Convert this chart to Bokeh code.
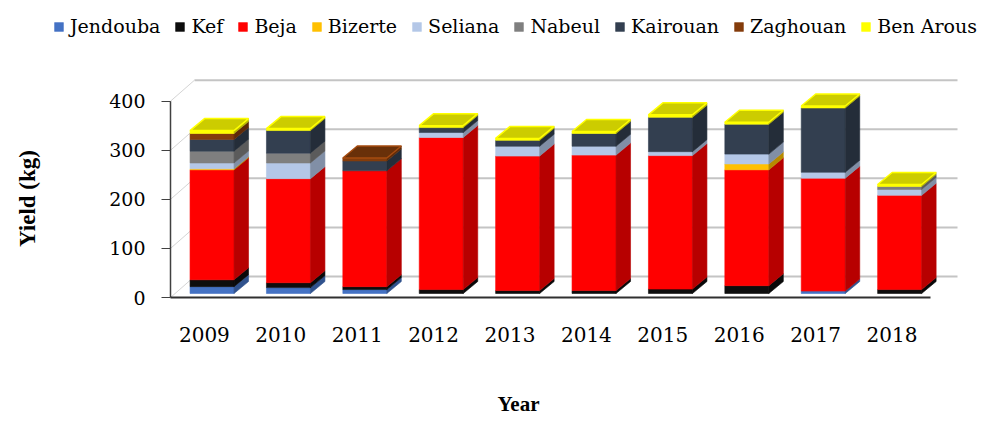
import math
from bokeh.plotting import figure
from bokeh.models import Range1d, FixedTicker, Legend, LegendItem, Label, ColumnDataSource
from bokeh.embed import file_html
from bokeh.resources import INLINE

# ---------------- data ----------------
years = ["2009", "2010", "2011", "2012", "2013", "2014", "2015", "2016", "2017", "2018"]
series = ["Jendouba", "Kef", "Beja", "Bizerte", "Seliana", "Nabeul", "Kairouan", "Zaghouan", "Ben Arous"]
jendouba = [14, 12, 8, 0, 0, 0, 0, 0, 5, 0]
kef = [14, 10, 6, 8, 6, 6, 9, 16, 0, 8]
beja = [224, 212, 236, 310, 274, 276, 272, 236, 230, 192]
bizerte = [2, 0, 0, 0, 0, 0, 0, 12, 0, 0]
seliana = [12, 32, 0, 10, 20, 18, 8, 20, 12, 12]
nabeul = [24, 20, 0, 0, 0, 0, 0, 0, 0, 6]
kairouan = [24, 46, 20, 10, 12, 26, 70, 61, 131, 0]
zaghouan = [12, 0, 6, 0, 0, 0, 0, 0, 0, 0]
ben_arous = [6, 4, 0, 4, 4, 4, 5, 4, 4, 4]
y_ticks = [0, 100, 200, 300, 400]

values = [jendouba, kef, beja, bizerte, seliana, nabeul, kairouan, zaghouan, ben_arous]
colors = ["#4472c4", "#0d0d0d", "#ff0000", "#ffc000", "#b4c7e7", "#7f7f7f", "#333f50", "#843c0c", "#ffff00"]

# ---------------- geometry (pixel based style constants) ----------------
W, H = 998, 423
PX_X = 76.4      # px per category
PX_Y = 0.4908    # px per unit
X_ORIGIN = 203.9  # screen x of category 0
Y_ORIGIN = 297.0  # screen y of value 0


def dx(sx):
    return (sx - X_ORIGIN) / PX_X


def dy(sy):
    return (Y_ORIGIN - sy) / PX_Y


def ux(px):
    return px / PX_X


def uy(px):
    return px / PX_Y


BAR_SHIFT = 0.1
HW = ux(22)
DDX = ux(14.5)
DDY = uy(12)
BASE = uy(4)
AXIS_X = dx(170)
WALL_L = AXIS_X + ux(24)
WALL_DY = uy(21)
WALL_R = dx(957)
FLOOR_R = dx(930)


def shade(hexc, f):
    h = hexc.lstrip("#")
    r, g, b = (int(h[i:i + 2], 16) for i in (0, 2, 4))
    return "#%02x%02x%02x" % (min(255, int(r * f)), min(255, int(g * f)), min(255, int(b * f)))


p = figure(width=W, height=H, x_range=Range1d(dx(0), dx(W)), y_range=Range1d(dy(H), dy(0)),
           output_backend="svg", toolbar_location=None,
           min_border_left=0, min_border_right=0, min_border_top=0, min_border_bottom=0)
p.outline_line_color = None
p.xgrid.visible = False
p.ygrid.visible = False
p.background_fill_color = "white"
p.border_fill_color = "white"

# walls
n = len(y_ticks)
p.segment(x0=[WALL_L] * n, y0=[t + WALL_DY for t in y_ticks],
          x1=[WALL_R] * n, y1=[t + WALL_DY for t in y_ticks],
          line_color="#c4c4c4", line_width=2)
p.segment(x0=[AXIS_X] * n, y0=y_ticks,
          x1=[WALL_L] * n, y1=[t + WALL_DY for t in y_ticks],
          line_color="#d4d4d4", line_width=1)
p.segment(x0=[AXIS_X], y0=[0], x1=[AXIS_X], y1=[max(y_ticks)], line_color="#404040", line_width=1.5)
p.segment(x0=[AXIS_X], y0=[0], x1=[FLOOR_R], y1=[0], line_color="#303030", line_width=2)

# top series index for each year
top_idx = []
for i in range(len(years)):
    k_top = None
    for k in range(len(series)):
        if values[k][i] > 0:
            k_top = k
    top_idx.append(k_top)

cum = [BASE] * len(years)
items = []
for k, name in enumerate(series):
    fr = dict(left=[], right=[], bottom=[], top=[])
    sxs, sys_ = [], []
    txs, tys = [], []
    for i in range(len(years)):
        v = values[k][i]
        if v <= 0:
            continue
        b = cum[i]
        t = b + v
        cum[i] = t
        cx = i + BAR_SHIFT
        fr["left"].append(cx - HW)
        fr["right"].append(cx + HW)
        fr["bottom"].append(b)
        fr["top"].append(t)
        sxs.append([cx + HW, cx + HW + DDX, cx + HW + DDX, cx + HW])
        sys_.append([b, b + DDY, t + DDY, t])
        if top_idx[i] == k:
            txs.append([cx - HW, cx + HW, cx + HW + DDX, cx - HW + DDX])
            tys.append([t, t, t + DDY, t + DDY])
    c = colors[k]
    side_c = shade(c, 0.72)
    top_c = shade(c, 0.8)
    r = p.quad(source=ColumnDataSource(fr), left="left", right="right", bottom="bottom", top="top",
               fill_color=c, line_color=c, line_width=0.6)
    p.patches(xs=sxs, ys=sys_, fill_color=side_c, line_color=side_c, line_width=0.6)
    if txs:
        edge = "#ffff00" if k == len(series) - 1 else shade(c, 1.25)
        p.patches(xs=txs, ys=tys, fill_color=top_c, line_color=edge, line_width=1.5)
    items.append(LegendItem(label=name, renderers=[r]))

legend = Legend(items=items, orientation="horizontal", location=(53, H - 37),
                padding=0, margin=0, spacing=14, glyph_width=11, glyph_height=11,
                label_standoff=6, label_text_font="DejaVu Serif", label_text_font_size="19px",
                label_text_color="black", border_line_color=None, background_fill_alpha=0)
p.add_layout(legend)

# axes (fixed inside the canvas-wide frame)
p.xaxis.fixed_location = 0
p.xaxis.ticker = FixedTicker(ticks=list(range(len(years))))
p.xaxis.major_label_overrides = {i: y for i, y in enumerate(years)}
p.xaxis.axis_line_color = None
p.xaxis.major_tick_line_color = None
p.xaxis.minor_tick_line_color = None
p.xaxis.major_label_standoff = 23
p.xaxis.major_label_text_font = "DejaVu Serif"
p.xaxis.major_label_text_font_size = "20px"
p.xaxis.major_label_text_color = "black"

p.yaxis.fixed_location = AXIS_X
p.yaxis.ticker = FixedTicker(ticks=y_ticks)
p.yaxis.axis_line_color = None
p.yaxis.major_tick_line_color = "#404040"
p.yaxis.major_tick_out = 9
p.yaxis.major_tick_in = 0
p.yaxis.minor_tick_line_color = None
p.yaxis.major_label_standoff = 16
p.yaxis.major_label_text_font = "DejaVu Serif"
p.yaxis.major_label_text_font_size = "19px"
p.yaxis.major_label_text_color = "black"

# axis titles
p.add_layout(Label(x=dx(27), y=dy(198), text="Yield (kg)", angle=math.pi / 2,
                   text_align="center", text_baseline="middle", text_font="Liberation Serif",
                   text_font_style="bold", text_font_size="23px", text_color="black"))
p.add_layout(Label(x=dx(518), y=dy(403), text="Year",
                   text_align="center", text_baseline="middle", text_font="Liberation Serif",
                   text_font_style="bold", text_font_size="21px", text_color="black"))

open("out.html", "w").write(file_html(p, INLINE))
